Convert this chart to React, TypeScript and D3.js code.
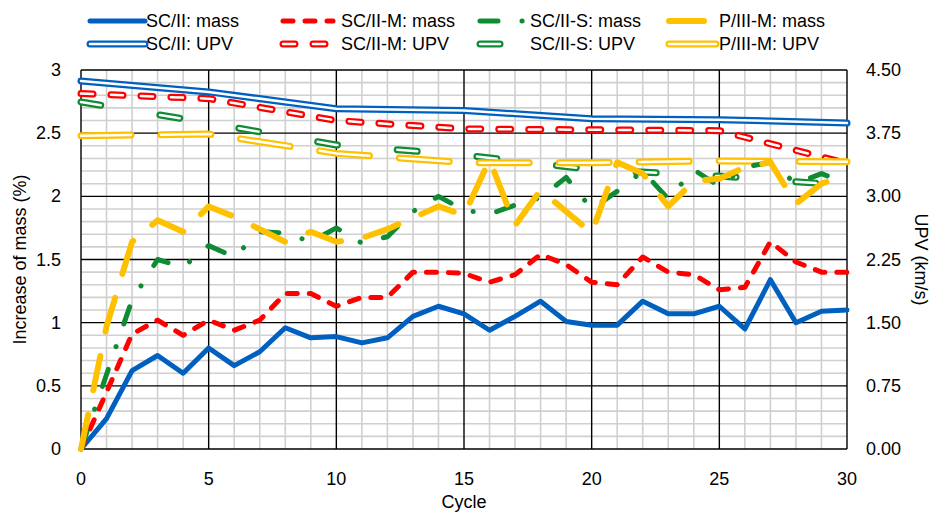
import React from 'react';
import * as d3 from 'd3';

// cycles for the mass readings and for the UPV readings
const cycles = [0, 1, 2, 3, 4, 5, 6, 7, 8, 9, 10, 11, 12, 13, 14, 15, 16, 17, 18, 19, 20, 21, 22, 23, 24, 25, 26, 27, 28, 29, 30];
const upvCycles = [0, 5, 10, 15, 20, 25, 30];

// increase of mass (%)
const massSCII = [0, 0.24, 0.62, 0.74, 0.6, 0.8, 0.66, 0.77, 0.96, 0.88, 0.89, 0.84, 0.88, 1.05, 1.13, 1.07, 0.94, 1.05, 1.17, 1.01, 0.98, 0.98, 1.17, 1.07, 1.07, 1.13, 0.95, 1.34, 1.0, 1.09, 1.1];
const massSCIIM = [0, 0.45, 0.91, 1.02, 0.9, 1.02, 0.94, 1.02, 1.23, 1.23, 1.13, 1.2, 1.2, 1.4, 1.4, 1.39, 1.32, 1.38, 1.54, 1.46, 1.32, 1.3, 1.52, 1.4, 1.38, 1.26, 1.28, 1.64, 1.48, 1.4, 1.4];
const massSCIIS = [0, 0.59, 1.18, 1.5, 1.44, 1.61, 1.52, 1.72, 1.71, 1.64, 1.75, 1.63, 1.68, 1.88, 2.0, 1.89, 1.86, 1.93, 1.99, 2.15, 1.9, 2.04, 2.2, 1.98, 2.21, 2.08, 2.23, 2.27, 2.1, 2.18, 2.1];
const massPIIIM = [0, 0.97, 1.64, 1.81, 1.72, 1.92, 1.84, 1.74, 1.64, 1.72, 1.64, 1.67, 1.74, 1.83, 1.92, 1.85, 2.29, 1.77, 2.05, 1.88, 1.71, 2.27, 2.18, 1.92, 2.12, 2.14, 2.23, 2.27, 1.94, 2.1, 2.17];

// UPV (km/s)
const upvSCII = [4.37, 4.24, 4.04, 4.02, 3.92, 3.91, 3.87];
const upvSCIIM = [4.22, 4.16, 3.9, 3.8, 3.79, 3.78, 3.39];
const upvSCIIS = [4.12, 3.87, 3.61, 3.49, 3.32, 3.24, 3.13];
const upvPIIIM = [3.72, 3.74, 3.51, 3.4, 3.4, 3.42, 3.41];

const xTicks = [0, 5, 10, 15, 20, 25, 30];
const leftTicks = [0, 0.5, 1, 1.5, 2, 2.5, 3];
const rightTicks = [0, 0.75, 1.5, 2.25, 3, 3.75, 4.5];

const BLUE = '#0060C0';
const RED = '#FF0000';
const GREEN = '#0F8C33';
const ORANGE = '#FFC000';

interface Series {
  label: string;
  xs: number[];
  values: number[];
  axis: 'left' | 'right';
  color: string;
  width: number;
  dash: string | null;
  double: boolean;
}

const massSeries: Series[] = [
  { label: 'SC/II: mass', xs: cycles, values: massSCII, axis: 'left', color: BLUE, width: 5, dash: null, double: false },
  { label: 'SC/II-M: mass', xs: cycles, values: massSCIIM, axis: 'left', color: RED, width: 5, dash: '10 12', double: false },
  { label: 'SC/II-S: mass', xs: cycles, values: massSCIIS, axis: 'left', color: GREEN, width: 5, dash: '18 24 0.1 24', double: false },
  { label: 'P/III-M: mass', xs: cycles, values: massPIIIM, axis: 'left', color: ORANGE, width: 6, dash: '35 25', double: false },
];

const upvSeries: Series[] = [
  { label: 'SC/II: UPV', xs: upvCycles, values: upvSCII, axis: 'right', color: BLUE, width: 7, dash: null, double: true },
  { label: 'SC/II-M: UPV', xs: upvCycles, values: upvSCIIM, axis: 'right', color: RED, width: 7, dash: '12 18', double: true },
  { label: 'SC/II-S: UPV', xs: upvCycles, values: upvSCIIS, axis: 'right', color: GREEN, width: 7, dash: '20 60', double: true },
  { label: 'P/III-M: UPV', xs: upvCycles, values: upvPIIIM, axis: 'right', color: ORANGE, width: 7, dash: '50 30', double: true },
];

const W = 933;
const H = 513;
const plot = { left: 81, right: 847, top: 70, bottom: 449 };

const FONT = "'Liberation Sans', Arial, sans-serif";

const App: React.FC = () => {
  const x = d3.scaleLinear().domain([0, 30]).range([plot.left, plot.right]);
  const yL = d3.scaleLinear().domain([0, 3]).range([plot.bottom, plot.top]);
  const yR = d3.scaleLinear().domain([0, 4.5]).range([plot.bottom, plot.top]);

  const minorX = x.ticks(30).filter(v => v % 5 !== 0);
  const minorY = yL.ticks(30).filter(v => Math.abs(v * 2 - Math.round(v * 2)) > 1e-6);

  const pathFor = (s: Series) => {
    const yScale = s.axis === 'left' ? yL : yR;
    const line = d3.line<number>()
      .x((_, i) => x(s.xs[i]))
      .y(d => yScale(d));
    return line(s.values) || '';
  };

  const drawSeries = (s: Series) => {
    const d = pathFor(s);
    return (
      <g key={s.label}>
        <path d={d} fill="none" stroke={s.color} strokeWidth={s.width}
          strokeDasharray={s.dash || undefined} strokeLinecap="round" strokeLinejoin="round" />
        {s.double && (
          <path d={d} fill="none" stroke="#fff" strokeWidth={2.5}
            strokeDasharray={s.dash || undefined} strokeLinecap="round" strokeLinejoin="round" />
        )}
      </g>
    );
  };

  // legend layout
  const legendCols = [
    { x1: 90, x2: 145, tx: 146 },
    { x1: 283, x2: 333, tx: 341 },
    { x1: 480, x2: 523, tx: 530 },
    { x1: 669, x2: 716, tx: 719 },
  ];
  const legendRows = [21, 44];

  const legendItem = (s: Series, col: number, row: number) => {
    const c = legendCols[col];
    const cy = legendRows[row];
    const d = `M${c.x1},${cy}L${c.x2},${cy}`;
    return (
      <g key={'lg' + s.label}>
        <path d={d} fill="none" stroke={s.color} strokeWidth={s.width}
          strokeDasharray={s.dash || undefined} strokeLinecap="round" />
        {s.double && (
          <path d={d} fill="none" stroke="#fff" strokeWidth={2.5}
            strokeDasharray={s.dash || undefined} strokeLinecap="round" />
        )}
        <text x={c.tx} y={cy + 6} fontSize={18} fill="#000">{s.label}</text>
      </g>
    );
  };

  return (
    <svg width={W} height={H} style={{ position: 'absolute', left: 0, top: 0, background: '#fff' }} fontFamily={FONT}>
      <rect x={0} y={0} width={W} height={H} fill="#fff" />

      {/* minor grid */}
      <g stroke="#D0D0D0" strokeWidth={1.6}>
        {minorX.map(v => (
          <line key={'mx' + v} x1={x(v)} x2={x(v)} y1={plot.top} y2={plot.bottom} />
        ))}
        {minorY.map(v => (
          <line key={'my' + v} x1={plot.left} x2={plot.right} y1={yL(v)} y2={yL(v)} />
        ))}
      </g>

      {/* major grid */}
      <g stroke="#000" strokeWidth={1.4}>
        {xTicks.map(v => (
          <line key={'gx' + v} x1={x(v)} x2={x(v)} y1={plot.top} y2={plot.bottom} />
        ))}
        {leftTicks.map(v => (
          <line key={'gy' + v} x1={plot.left} x2={plot.right} y1={yL(v)} y2={yL(v)} />
        ))}
      </g>

      {/* series */}
      {upvSeries.map(drawSeries)}
      {massSeries.map(drawSeries)}

      {/* axis labels */}
      <g fontSize={18} fill="#000">
        {xTicks.map(v => (
          <text key={'tx' + v} x={x(v)} y={485} textAnchor="middle">{v}</text>
        ))}
        {leftTicks.map(v => (
          <text key={'tl' + v} x={61} y={yL(v) + 6} textAnchor="end">{String(v)}</text>
        ))}
        {rightTicks.map(v => (
          <text key={'tr' + v} x={866} y={yR(v) + 6} textAnchor="start">{v.toFixed(2)}</text>
        ))}
        <text x={(plot.left + plot.right) / 2} y={508} textAnchor="middle">Cycle</text>
        <text transform={`translate(26,${(plot.top + plot.bottom) / 2}) rotate(-90)`} textAnchor="middle">Increase of mass (%)</text>
        <text transform={`translate(915,${(plot.top + plot.bottom) / 2}) rotate(90)`} textAnchor="middle">UPV (km/s)</text>
      </g>

      {/* legend */}
      {massSeries.map((s, i) => legendItem(s, i, 0))}
      {upvSeries.map((s, i) => legendItem(s, i, 1))}
    </svg>
  );
};

export default App;
